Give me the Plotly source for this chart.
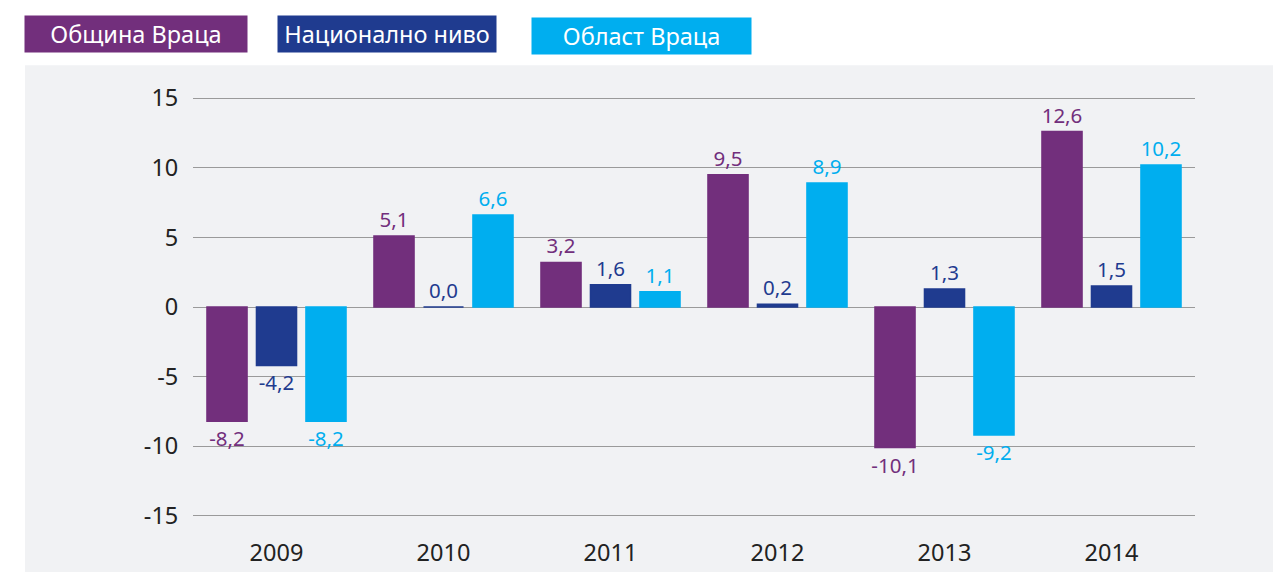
import plotly.graph_objects as go

years = ["2009", "2010", "2011", "2012", "2013", "2014"]
obshtina = [-8.2, 5.1, 3.2, 9.5, -10.1, 12.6]
nacionalno = [-4.2, 0.0, 1.6, 0.2, 1.3, 1.5]
oblast = [-8.2, 6.6, 1.1, 8.9, -9.2, 10.2]
series_names = ["Община Враца", "Национално ниво", "Област Враца"]
colors = ["#722F7C", "#1F3B8F", "#00AEEF"]
ytick_vals = [-15, -10, -5, 0, 5, 10, 15]
ytick_text = ["-15", "-10", "-5", "0", "5", "10", "15"]

def fmt(v):
    return f"{v:.1f}".replace(".", ",")

OFF = 8  # page body margin
W, H = 1281 - OFF, 572 - OFF
YR = 15.3
unit = (516 - 98) / 30.0
L, R = 193 - OFF, 1195 - OFF
T = 98 - OFF - (YR - 15) * unit
B = 516 - OFF + (YR - 15) * unit
FONT = "Noto Sans"

fig = go.Figure()
for name, vals, col in zip(series_names, [obshtina, nacionalno, oblast], colors):
    fig.add_trace(go.Bar(
        x=years, y=vals, name=name,
        marker=dict(color=col, line=dict(color=col, width=1.5)),
        text=[fmt(v) for v in vals], textposition="outside",
        textfont=dict(color=col, size=20.5, family=FONT),
        constraintext="none", cliponaxis=False, showlegend=False,
    ))

def px(x):
    return (x - OFF - L) / (R - L)

def py(y):
    return (B - (y - OFF)) / (B - T)

shapes = [dict(type="rect", xref="paper", yref="paper",
               x0=px(25), x1=px(1290), y0=py(65), y1=py(580),
               fillcolor="#F1F2F4", line=dict(width=0), layer="below")]

annotations = []
boxes = [(25, 247, 15, 53), (278, 496, 15, 53), (532, 751, 17, 55)]
for (x0, x1, y0, y1), name, col in zip(boxes, series_names, colors):
    annotations.append(dict(
        x=px((x0 + x1) / 2), y=py((y0 + y1) / 2), xref="paper", yref="paper",
        text=name, showarrow=False, xanchor="center", yanchor="middle",
        width=x1 - x0, height=y1 - y0 - 2, bgcolor=col, borderpad=0,
        font=dict(color="white", size=23.5, family=FONT),
    ))

fig.update_layout(
    width=W, height=H,
    margin=dict(l=L, r=W - R, t=T, b=H - B, pad=0, autoexpand=False),
    paper_bgcolor="white", plot_bgcolor="rgba(0,0,0,0)",
    barmode="group", bargap=0.111, bargroupgap=0.19,
    shapes=shapes, annotations=annotations,
    font=dict(family=FONT, color="#222222"),
    xaxis=dict(showgrid=False, showline=False, zeroline=False, automargin=False,
               ticks="outside", ticklen=12, tickcolor="rgba(0,0,0,0)",
               tickfont=dict(size=23.5, color="#222222", family=FONT)),
    yaxis=dict(range=[-YR, YR], tickvals=ytick_vals, ticktext=ytick_text,
               automargin=False,
               showgrid=True, gridcolor="#9A9A9A", gridwidth=1,
               zeroline=True, zerolinecolor="#9A9A9A", zerolinewidth=1,
               showline=False, ticks="outside", ticklen=9,
               tickcolor="rgba(0,0,0,0)",
               tickfont=dict(size=23.5, color="#222222", family=FONT)),
)

fig.write_html("out.html")
